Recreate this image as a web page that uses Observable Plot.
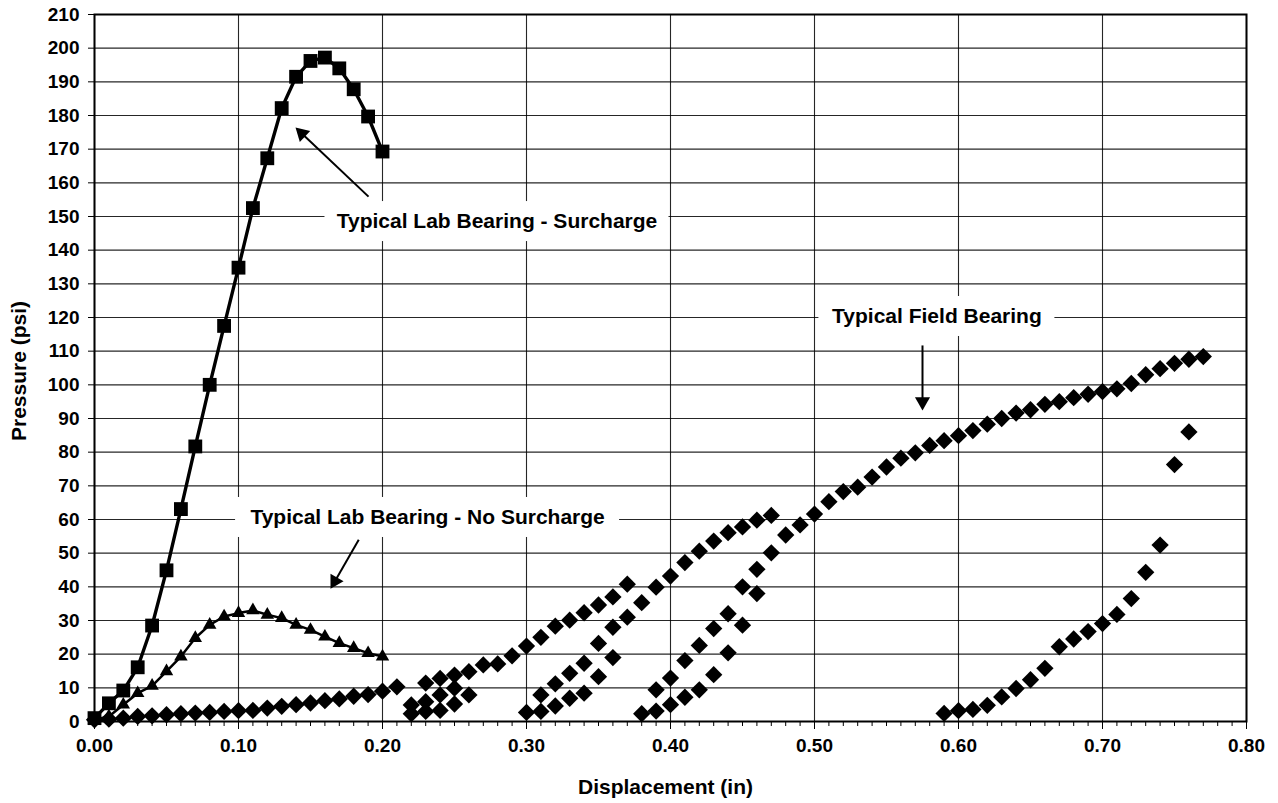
<!DOCTYPE html>
<html><head><meta charset="utf-8">
<script src="https://cdn.jsdelivr.net/npm/d3@7"></script>
<script src="https://cdn.jsdelivr.net/npm/@observablehq/plot@0.6"></script>
<style>
html,body{margin:0;padding:0;background:#fff;}
#chart svg{display:block;}
</style></head><body><div id="chart"></div>
<script>
// ---- data ----
const labDisplacement = [0.00,0.01,0.02,0.03,0.04,0.05,0.06,0.07,0.08,0.09,0.10,0.11,0.12,0.13,0.14,0.15,0.16,0.17,0.18,0.19,0.20];
const surchargePressure = [1.0,5.4,9.2,16.1,28.5,44.9,63.1,81.7,100.0,117.5,134.8,152.5,167.3,182.2,191.5,196.2,197.2,194.0,187.8,179.7,169.3];
const noSurchargePressure = [0.5,1.5,5.0,8.4,10.6,14.9,19.3,24.8,28.7,31.2,32.2,33.0,31.7,30.7,28.7,27.2,25.2,23.3,21.8,20.3,19.3];

const fieldDisplacement = [
 0.00,0.01,0.02,0.03,0.04,0.05,0.06,0.07,0.08,0.09,0.10,0.11,0.12,0.13,0.14,0.15,0.16,0.17,0.18,0.19,0.20,0.21,
 0.22,0.22,0.23,0.23,0.23,0.24,0.24,0.24,0.25,0.25,0.25,0.26,0.26,0.27,0.28,0.29,
 0.30,0.30,0.31,0.31,0.31,0.32,0.32,0.32,0.33,0.33,0.33,0.34,0.34,0.34,0.35,0.35,0.35,0.36,0.36,0.36,0.37,0.37,
 0.38,0.38,0.39,0.39,0.39,0.40,0.40,0.40,0.41,0.41,0.41,0.42,0.42,0.42,0.43,0.43,0.43,0.44,0.44,0.44,0.45,0.45,0.45,0.46,0.46,0.46,0.47,0.47,
 0.48,0.49,0.50,0.51,0.52,0.53,0.54,0.55,0.56,0.57,0.58,
 0.59,0.59,0.60,0.60,0.61,0.61,0.62,0.62,0.63,0.63,0.64,0.64,0.65,0.65,0.66,0.66,0.67,0.67,0.68,0.68,0.69,0.69,0.70,0.70,0.71,0.71,0.72,0.72,0.73,0.73,0.74,0.74,0.75,0.75,0.76,0.76,0.77
];
const fieldPressure = [
 0.5,0.7,1.0,1.5,1.7,2.0,2.3,2.5,2.7,3.0,3.2,3.3,4.0,4.5,5.0,5.5,6.2,6.7,7.5,8.0,9.0,10.3,
 4.9,2.3, 11.4,5.9,3.0, 12.8,7.9,3.3, 13.8,9.9,5.2, 14.8,7.9, 16.8, 17.1, 19.5,
 22.4,2.7, 25.0,7.9,3.0, 28.3,11.2,4.6, 30.1,14.3,6.9, 32.3,17.3,8.4, 34.6,23.2,13.3, 37.0,28.0,19.0, 40.8,31.0,
 35.3,2.3, 39.9,9.4,3.1, 43.2,12.9,5.0, 47.2,18.1,7.2, 50.6,22.6,9.4, 53.6,27.6,13.9, 56.1,32.0,20.4, 57.8,40.0,28.6, 59.8,45.2,38.0, 61.2,50.1,
 55.4,58.4,61.6,65.3,68.3,69.6,72.6,75.6,78.2,79.8,82.0,
 83.4,2.4, 84.9,3.2, 86.4,3.6, 88.3,4.8, 90.0,7.3, 91.6,9.8, 92.6,12.4, 94.2,15.8, 95.0,22.2, 96.2,24.5, 97.2,26.7, 98.0,29.1, 98.8,31.8, 100.4,36.5, 103.0,44.3, 104.8,52.4, 106.4,76.3, 107.6,86.0, 108.4
];

const xTickValues = [0,0.1,0.2,0.3,0.4,0.5,0.6,0.7,0.8];
const xMinorTicks = d3.range(0,81).map(i => i/100);
const yTickValues = d3.range(0,211,10);

const annotationTexts = ["Typical Lab Bearing - Surcharge","Typical Lab Bearing - No Surcharge","Typical Field Bearing"];
const annotationX = [0.2795,0.2313,0.585];
const annotationY = [148.5,60.6,120.3];
const arrowFromX = [0.1903,0.1835,0.575];
const arrowFromY = [155.9,54.0,111.7];
const arrowToX = [0.1396,0.1639,0.575];
const arrowToY = [176.4,39.4,92.4];

// ---- layout ----
const W = 1278, H = 803, ML = 94, MR = 32, MT = 14, MB = 82;
const kx = (W-ML-MR)/0.8, ky = (H-MT-MB)/210;
const FONT = "'Liberation Sans', Arial, Helvetica, sans-serif";

const lab = labDisplacement.map((x,i) => ({x, s: surchargePressure[i], n: noSurchargePressure[i]}));
const field = fieldDisplacement.map((x,i) => ({x, y: fieldPressure[i]}));

// annotation boxes (white, hiding grid), measured in px then converted
const boxHalfW = [172,192,118], boxHalfH = 20;
const boxes = annotationTexts.map((t,i) => ({
  x1: annotationX[i] - boxHalfW[i]/kx, x2: annotationX[i] + boxHalfW[i]/kx,
  y1: annotationY[i] - boxHalfH/ky, y2: annotationY[i] + boxHalfH/ky
}));
const notes = annotationTexts.map((t,i) => ({t, x: annotationX[i], y: annotationY[i]}));

// arrows with filled heads
const headR = 5.6;
const hy = Math.sqrt(Math.PI*headR*headR/(3*Math.sqrt(3)));
const shafts = [], heads = [];
arrowFromX.forEach((x1,i) => {
  const y1 = arrowFromY[i], x2 = arrowToX[i], y2 = arrowToY[i];
  const dxp = (x2-x1)*kx, dyp = -(y2-y1)*ky;
  const L = Math.hypot(dxp,dyp), ux = dxp/L, uy = dyp/L;
  const hc = 2*hy, se = 2.5*hy;
  heads.push({x: x2 - ux*hc/kx, y: y2 + uy*hc/ky, a: Math.atan2(ux,-uy)*180/Math.PI});
  shafts.push({x1, y1, x2: x2 - ux*se/kx, y2: y2 + uy*se/ky});
});

const plot = Plot.plot({
  width: W, height: H,
  marginLeft: ML, marginRight: MR, marginTop: MT, marginBottom: MB,
  x: {domain: [0,0.8]},
  y: {domain: [0,210]},
  style: {fontFamily: FONT, background: "white", color: "black"},
  marks: [
    Plot.gridY(yTickValues, {stroke: "#000", strokeOpacity: 0.85, strokeWidth: 1.1}),
    Plot.gridX(xTickValues, {stroke: "#000", strokeOpacity: 0.85, strokeWidth: 1.1}),
    Plot.rect(boxes, {x1: "x1", x2: "x2", y1: "y1", y2: "y2", fill: "white"}),
    Plot.frame({stroke: "black", strokeWidth: 2}),
    Plot.axisX({ticks: xMinorTicks, tickSize: 5, tickFormat: () => "", label: null, strokeWidth: 1}),
    Plot.axisX({ticks: xTickValues, tickSize: 8, tickPadding: 9, tickFormat: d3.format(".2f"), label: null, fontSize: 19, fontWeight: "bold", strokeWidth: 1}),
    Plot.axisY({ticks: yTickValues, tickSize: 6, tickPadding: 9, tickFormat: d => d, label: null, fontSize: 19, fontWeight: "bold", strokeWidth: 1}),
    Plot.line(lab, {x: "x", y: "s", stroke: "black", strokeWidth: 3.4}),
    Plot.dot(lab, {x: "x", y: "s", symbol: "square", r: 7.8, fill: "black", stroke: "none"}),
    Plot.line(lab, {x: "x", y: "n", stroke: "black", strokeWidth: 2.5}),
    Plot.dot(lab, {x: "x", y: "n", symbol: "triangle", r: 5, fill: "black", stroke: "none"}),
    Plot.dot(field, {x: "x", y: "y", symbol: "square", rotate: 45, r: 6.9, fill: "black", stroke: "none"}),
    Plot.link(shafts, {x1: "x1", y1: "y1", x2: "x2", y2: "y2", stroke: "black", strokeWidth: 2}),
    Plot.dot(heads, {x: "x", y: "y", symbol: "triangle", r: headR, rotate: "a", fill: "black", stroke: "none"}),
    Plot.text(notes, {x: "x", y: "y", text: "t", fontSize: 21, fontWeight: "bold", fill: "black"}),
    Plot.text(["Displacement (in)"], {frameAnchor: "bottom", dy: 66, dx: -5, lineAnchor: "middle", textAnchor: "middle", fontSize: 21, fontWeight: "bold", fill: "black"}),
    Plot.text(["Pressure (psi)"], {frameAnchor: "left", dx: -75, dy: 3, rotate: -90, textAnchor: "middle", lineAnchor: "middle", fontSize: 21, fontWeight: "bold", fill: "black"})
  ]
});
document.getElementById("chart").appendChild(plot);
</script>
</body></html>
